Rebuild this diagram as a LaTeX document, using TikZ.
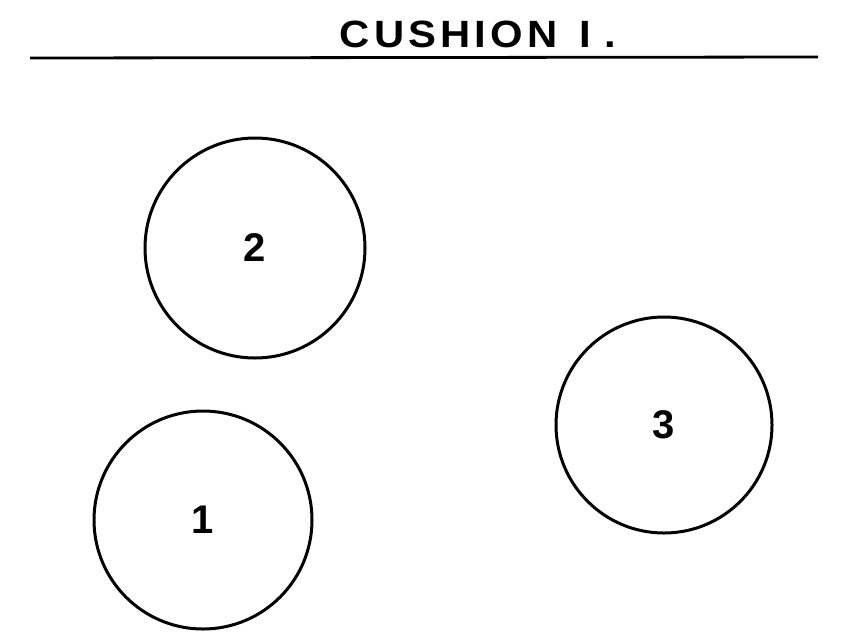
\documentclass[tikz,border=0pt]{standalone}
\usepackage{graphicx}
\usepackage{fontspec}
\setmainfont{Liberation Sans}

\begin{document}
\begin{tikzpicture}[x=1pt,y=-1pt]
        \tikzstyle{ball}=[circle,draw,line width=3pt,inner sep=0pt,font=\fontsize{40}{44}\selectfont\bfseries]
        \tikzstyle{heading}=[inner sep=0pt,font=\fontsize{38}{42}\selectfont\bfseries]
        \useasboundingbox (0,0) rectangle (842,641);
        \node[heading] (title) at (478,34) {\scalebox{1.1}[1]{\addfontfeature{LetterSpace=10}CUSHION\hspace{20pt}I\hspace{12pt}.}};
        \coordinate (ruleL) at (30,58);
        \coordinate (ruleR) at (818,57);
        \draw[line width=2.8pt] (ruleL) -- (ruleR);
        \node[ball,minimum size=220pt] (ball2) at (255,248) {2};
        \node[ball,minimum size=218pt] (ball1) at (203,520) {1};
        \node[ball,minimum size=216pt] (ball3) at (664,425) {3};
\end{tikzpicture}
\end{document}
